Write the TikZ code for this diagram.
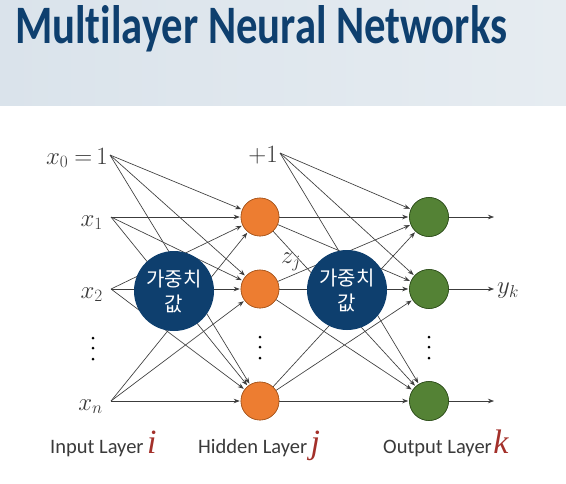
\documentclass[tikz,border=0pt]{standalone}
\usepackage{fontspec}
\setmainfont{Liberation Serif}
\newfontfamily\titlefont[Ligatures=NoCommon]{Carlito}
\newfontfamily\labfont{Carlito}
\newfontfamily\kofont{Noto Sans CJK KR}
\usetikzlibrary{arrows.meta}
\definecolor{navy}{HTML}{0E3F6E}
\definecolor{hdr}{HTML}{DAE3EB}
\definecolor{hdrb}{HTML}{E6ECF1}
\definecolor{orng}{HTML}{ED7D31}
\definecolor{orngd}{HTML}{A5561F}
\definecolor{grn}{HTML}{548235}
\definecolor{grnd}{HTML}{2E4D1C}
\definecolor{edgec}{HTML}{3C3C3C}
\definecolor{redl}{HTML}{A3302A}
\definecolor{labc}{HTML}{3A3A3A}
\tikzset{
  hid/.style={circle,draw=orngd,fill=orng,line width=0.6pt,minimum size=38pt,inner sep=0pt},
  outn/.style={circle,draw=grnd,fill=grn,line width=0.6pt,minimum size=39pt,inner sep=0pt},
  wgt/.style={circle,fill=navy,minimum size=80pt,inner sep=0pt,text=white,align=center,
    font=\kofont\fontsize{20}{25}\selectfont},
  conn/.style={draw=edgec,line width=0.65pt,-{Stealth[length=6pt,width=4.5pt]}},
  mlab/.style={inner sep=0pt,text=labc,font=\fontsize{24}{26}\selectfont},
  laylab/.style={inner sep=0pt,anchor=base west,text=labc,font=\labfont\fontsize{20.5}{22}\selectfont},
  laysym/.style={inner sep=0pt,anchor=base west,text=redl,font=\itshape\fontsize{34}{36}\selectfont},
  dotc/.style={fill=black,circle,inner sep=0pt,minimum size=3pt}
}
\begin{document}
\begin{tikzpicture}[x=1pt,y=-1pt]
\useasboundingbox (0,0) rectangle (566,483);
\fill[white] (0,0) rectangle (566,483);
\shade[left color=hdr,right color=hdrb] (0,0) rectangle (566,105);
\node[anchor=base west,inner sep=0pt,text=navy] (title) at (15,43)
  {\resizebox{492pt}{38pt}{\titlefont\bfseries\fontsize{57}{60}\selectfont Multilayer Neural Networks}};

% input sources
\coordinate (i0) at (110,155);
\coordinate (i1) at (111,217);
\coordinate (i2) at (111,289);
\coordinate (i3) at (111,401);
\node[mlab,anchor=base east] (lx0) at (108,164) {$x_0\ {=}\,1$};
\node[mlab,anchor=base east] (lx1) at (103,226) {$x_1$};
\node[mlab,anchor=base east] (lx2) at (103,298) {$x_2$};
\node[mlab,anchor=base east] (lxn) at (103,410) {$x_n$};
\foreach \y/\n in {338/a,348/b,359/c} \node[dotc] (di\n) at (93,\y) {};

% hidden
\node[hid] (h1) at (260,217) {};
\node[hid] (h2) at (260,289) {};
\node[hid] (h3) at (260,401) {};
\foreach \y/\n in {337/a,347/b,358/c} \node[dotc] (dh\n) at (260,\y) {};
\coordinate (b0) at (280,153);
\node[mlab,anchor=base east] (lb) at (278,162) {$+1$};
\node[mlab] (lz) at (291,262) {$z_j$};

% output
\node[outn] (o1) at (429,217) {};
\node[outn] (o2) at (429,289) {};
\node[outn] (o3) at (429,401) {};
\foreach \y/\n in {337/a,347/b,358/c} \node[dotc] (do\n) at (429,\y) {};
\coordinate (e1) at (494,217);
\coordinate (e2) at (494,289);
\coordinate (e3) at (494,401);
\node[mlab,anchor=west] (ly) at (497,291) {$y_k$};

% connectors input -> hidden
\foreach \s in {i0,i1,i2,i3}
  \foreach \t in {h1,h2,h3}
    \draw[conn,shorten >=1pt] (\s) -- (\t);
% hidden -> output
\foreach \s in {b0,h1,h2,h3}
  \foreach \t in {o1,o2,o3}
    \draw[conn,shorten >=1pt] (\s) -- (\t);
\draw[conn] (o1) -- (e1);
\draw[conn] (o2) -- (e2);
\draw[conn] (o3) -- (e3);

% weight circles on top
\node[wgt] (w1) at (174,291) {가중치\\값};
\node[wgt] (w2) at (347,290) {가중치\\값};
% node circles on top of edges
\node[hid] at (h1) {};
\node[hid] at (h2) {};
\node[hid] at (h3) {};
\node[outn] at (o1) {};
\node[outn] at (o2) {};
\node[outn] at (o3) {};

% layer labels
\node[laylab] (l1) at (50,453) {Input Layer};
\node[laysym] (s1) at ([xshift=3pt]l1.base east) {i};
\node[laylab] (l2) at (198,453) {Hidden Layer};
\node[laysym] (s2) at ([xshift=3pt]l2.base east) {j};
\node[laylab] (l3) at (383,453) {Output Layer};
\node[laysym] (s3) at ([xshift=1pt]l3.base east) {k};
\end{tikzpicture}
\end{document}
